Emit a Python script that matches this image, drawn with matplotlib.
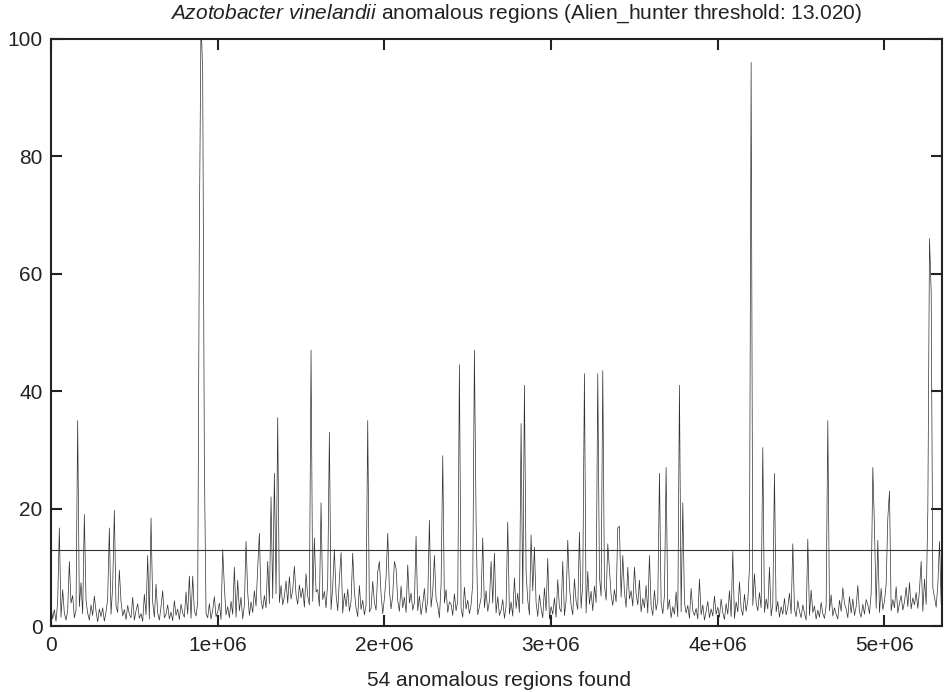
import numpy as np
import matplotlib
matplotlib.use("Agg")
import matplotlib.pyplot as plt
from matplotlib.ticker import FuncFormatter

plt.rcParams['font.family'] = ['Liberation Sans', 'DejaVu Sans']
plt.rcParams['mathtext.fontset'] = 'custom'
plt.rcParams['mathtext.it'] = 'Liberation Sans:italic'
plt.rcParams['mathtext.rm'] = 'Liberation Sans'

# alien_hunter scores, one window every 10 kb
step = 10000
genome_end = 5345000
threshold = 13.020
n_regions = 54

baseline = [
    [3.5, 1.2, 2.8, 0.8, 4.1, 2.0, 1.5, 6.2, 2.2, 1.0],
    [2.6, 1.1, 3.9, 5.2, 1.4, 2.7, 0.9, 3.3, 7.4, 2.1],
    [1.3, 4.4, 2.2, 1.0, 3.6, 1.8, 5.1, 2.5, 0.7, 2.9],
    [1.6, 3.1, 0.8, 2.4, 4.6, 1.2, 2.0, 6.8, 1.5, 3.4],
    [2.3, 0.9, 4.2, 1.7, 2.8, 1.1, 3.5, 2.0, 1.4, 4.9],
    [1.0, 2.6, 3.8, 1.3, 2.1, 0.8, 5.4, 1.9, 3.0, 1.2],
    [2.7, 4.0, 1.5, 7.1, 2.2, 1.0, 3.3, 2.5, 1.4, 2.0],
    [3.6, 1.2, 2.4, 0.9, 4.3, 1.8, 2.9, 1.1, 3.7, 2.2],
    [1.5, 5.8, 2.0, 3.1, 1.3, 8.5, 2.6, 1.7, 4.0, 6.3],
    [9.0, 3.2, 4.5, 2.1, 1.4, 3.8, 1.2, 2.7, 5.0, 1.6],
    [2.4, 3.9, 1.1, 2.8, 6.6, 1.9, 3.3, 1.4, 4.2, 2.0],
    [3.0, 1.5, 7.8, 2.6, 4.9, 1.2, 3.5, 2.2, 5.7, 1.8],
    [4.1, 2.3, 6.0, 3.4, 1.6, 8.8, 4.4, 2.9, 5.2, 3.1],
    [6.4, 3.8, 9.6, 4.7, 7.2, 5.5, 8.1, 4.0, 6.9, 3.6],
    [5.0, 7.7, 3.9, 8.4, 4.6, 6.1, 10.2, 5.3, 3.7, 7.0],
    [4.8, 6.5, 3.2, 8.9, 5.1, 3.6, 7.3, 4.2, 9.4, 5.8],
    [6.2, 3.4, 8.0, 4.5, 5.9, 3.1, 7.5, 4.9, 2.8, 6.7],
    [3.5, 5.4, 2.6, 7.9, 4.0, 2.2, 5.6, 3.3, 6.3, 2.5],
    [4.2, 2.0, 5.8, 3.1, 1.6, 6.9, 2.8, 4.4, 1.9, 3.6],
    [5.3, 2.4, 3.0, 7.6, 4.1, 2.7, 9.2, 3.8, 5.5, 2.1],
    [4.7, 8.3, 3.4, 6.1, 2.9, 5.2, 3.6, 9.8, 4.3, 2.5],
    [6.8, 3.1, 4.9, 2.3, 7.4, 3.9, 5.6, 2.7, 4.0, 3.3],
    [2.6, 5.1, 1.9, 3.8, 6.4, 2.2, 4.5, 1.7, 3.2, 5.9],
    [2.0, 4.6, 3.5, 1.4, 7.0, 2.8, 3.9, 6.2, 2.3, 4.1],
    [3.7, 1.8, 5.5, 2.6, 4.3, 8.7, 3.0, 1.5, 6.6, 2.9],
    [4.4, 2.1, 3.6, 7.2, 2.4, 5.8, 1.9, 3.3, 4.8, 2.0],
    [3.1, 6.0, 2.5, 4.2, 1.6, 3.9, 7.7, 2.2, 5.0, 1.8],
    [2.7, 4.5, 1.3, 3.4, 6.3, 2.0, 4.1, 1.7, 8.2, 3.0],
    [5.6, 2.3, 7.1, 3.8, 2.5, 9.1, 4.4, 1.9, 3.2, 6.0],
    [2.1, 4.0, 1.6, 5.3, 3.0, 1.4, 6.5, 2.6, 3.7, 1.2],
    [3.3, 2.0, 4.8, 1.5, 7.9, 3.1, 2.4, 5.6, 1.8, 4.3],
    [2.5, 6.7, 3.6, 1.9, 8.0, 4.2, 2.8, 5.4, 3.0, 7.3],
    [4.6, 2.2, 9.3, 3.7, 5.9, 2.6, 6.8, 4.0, 3.2, 8.4],
    [5.1, 3.0, 7.0, 4.4, 2.7, 9.5, 5.3, 3.5, 6.2, 4.1],
    [3.8, 8.6, 4.9, 10.5, 5.7, 3.2, 7.4, 4.6, 6.0, 3.4],
    [2.9, 5.5, 3.6, 7.8, 2.4, 4.7, 3.1, 6.9, 2.2, 5.0],
    [3.4, 1.8, 6.1, 2.7, 4.3, 1.5, 3.9, 2.1, 5.2, 1.7],
    [2.8, 4.5, 1.4, 3.3, 2.0, 5.8, 1.6, 3.7, 2.4, 1.1],
    [4.0, 2.2, 3.5, 1.3, 6.4, 2.6, 1.8, 3.0, 1.2, 4.7],
    [1.9, 3.6, 1.0, 2.5, 4.2, 1.4, 2.9, 1.7, 5.1, 2.0],
    [3.2, 1.5, 4.6, 2.3, 1.1, 3.8, 2.0, 6.0, 1.6, 2.7],
    [1.3, 4.1, 2.4, 7.5, 3.0, 1.8, 5.4, 2.5, 4.4, 9.8],
    [6.3, 3.5, 8.9, 4.0, 2.6, 5.7, 3.1, 7.2, 2.3, 4.6],
    [2.9, 5.1, 1.7, 3.8, 6.5, 2.4, 4.2, 1.5, 3.3, 2.0],
    [4.7, 1.9, 3.2, 5.6, 2.1, 7.8, 2.8, 1.6, 4.3, 2.5],
    [1.4, 3.6, 2.2, 1.0, 4.9, 1.8, 6.1, 2.3, 3.4, 1.2],
    [2.7, 1.5, 4.0, 2.1, 1.3, 3.5, 1.9, 2.6, 5.3, 1.7],
    [3.1, 2.0, 1.2, 4.4, 2.5, 1.6, 3.8, 2.9, 1.4, 5.0],
    [2.2, 4.6, 1.8, 3.3, 6.9, 2.4, 1.5, 3.7, 2.0, 4.5],
    [3.6, 2.1, 5.5, 1.7, 8.3, 3.0, 4.8, 2.3, 6.4, 2.8],
    [4.2, 7.1, 3.4, 5.9, 2.6, 4.5, 3.1, 6.7, 2.2, 3.9],
    [5.2, 2.7, 4.1, 6.6, 3.3, 7.4, 2.9, 4.8, 3.6, 5.7],
    [3.0, 6.2, 4.4, 2.5, 8.0, 3.7, 5.3, 9.2, 4.1, 6.5],
    [4.9, 3.2, 7.0, 5.6, 3.8, 8.4, 6.1],
]

# spikes: window start (bp) and score
peak_pos = [50000, 110000, 160000, 200000, 350000, 380000, 410000, 580000,
            600000, 670000, 830000, 890000, 900000, 910000, 920000, 1030000,
            1100000, 1170000, 1240000, 1250000, 1300000, 1320000, 1340000,
            1360000, 1560000, 1580000, 1620000, 1670000, 1700000, 1740000,
            1810000, 1900000, 1970000, 2020000, 2060000, 2140000, 2190000,
            2270000, 2300000, 2350000, 2450000, 2540000, 2550000, 2590000,
            2640000, 2660000, 2740000, 2820000, 2840000, 2880000, 2900000,
            2980000, 3070000, 3100000, 3170000, 3200000, 3280000, 3310000,
            3340000, 3400000, 3410000, 3430000, 3460000, 3500000, 3590000,
            3650000, 3690000, 3770000, 3790000, 3890000, 4090000, 4200000,
            4270000, 4310000, 4340000, 4450000, 4540000, 4660000, 4750000,
            4930000, 4940000, 4960000, 5020000, 5030000, 5220000, 5260000,
            5270000, 5280000, 5330000]
peak_val = [16.7, 11, 35, 19, 16.7, 19.7, 9.5, 12,
            18.4, 6, 8.5, 67, 104, 94, 28, 13,
            10, 14.4, 9.9, 15.8, 11, 22, 26,
            35.5, 47, 15, 21, 33, 13, 12.5,
            12.4, 35, 11, 15.8, 11, 10.4, 15.3,
            18, 12, 29, 44.5, 47, 18, 15,
            11, 12.4, 17.7, 34.5, 41, 15.5, 13.4,
            11.5, 11, 14.6, 16, 43, 43, 43.5,
            14, 16.7, 17, 12, 10, 10, 12,
            26, 27, 41, 21, 8, 12.7, 96,
            30.4, 10, 26, 14, 14.8, 35, 6.5,
            27, 16.7, 14.6, 18.4, 23, 11, 19.7,
            66, 57, 14.4]

scores = np.array([v for row in baseline for v in row])
for p, v in zip(peak_pos, peak_val):
    scores[p // step] = v
position = np.arange(len(scores)) * step

fig = plt.figure(figsize=(9.44, 6.92), dpi=100)
ax = fig.add_axes([51/944, 1 - 626/692, 891/944, 587/692])

ax.plot(position, scores, color='#303030', lw=0.5)
ax.axhline(threshold, color='#333333', lw=0.8)

ax.set_xlim(0, genome_end)
ax.set_ylim(0, 100)
ax.set_xticks([0, 1e6, 2e6, 3e6, 4e6, 5e6])
ax.set_yticks([0, 20, 40, 60, 80, 100])
ax.xaxis.set_major_formatter(FuncFormatter(lambda v, p: '0' if v == 0 else f'{v:.0e}'))
ax.tick_params(direction='in', length=8, width=1.5, top=True, right=True,
               labelsize=15, colors='#222222')
ax.tick_params(axis='x', pad=7)
ax.tick_params(axis='y', pad=6)
for s in ax.spines.values():
    s.set_linewidth(1.5)
    s.set_color('#222222')

fig.text(516/944, 1 - 14/692,
         r'$\it{Azotobacter\ vinelandii}$ anomalous regions (Alien_hunter threshold: %.3f)' % threshold,
         ha='center', va='center', fontsize=15, color='#222222')
fig.text(499/944, 1 - 680/692, f'{n_regions} anomalous regions found',
         ha='center', va='center', fontsize=15, color='#222222')

fig.savefig('out.png', dpi=100)
